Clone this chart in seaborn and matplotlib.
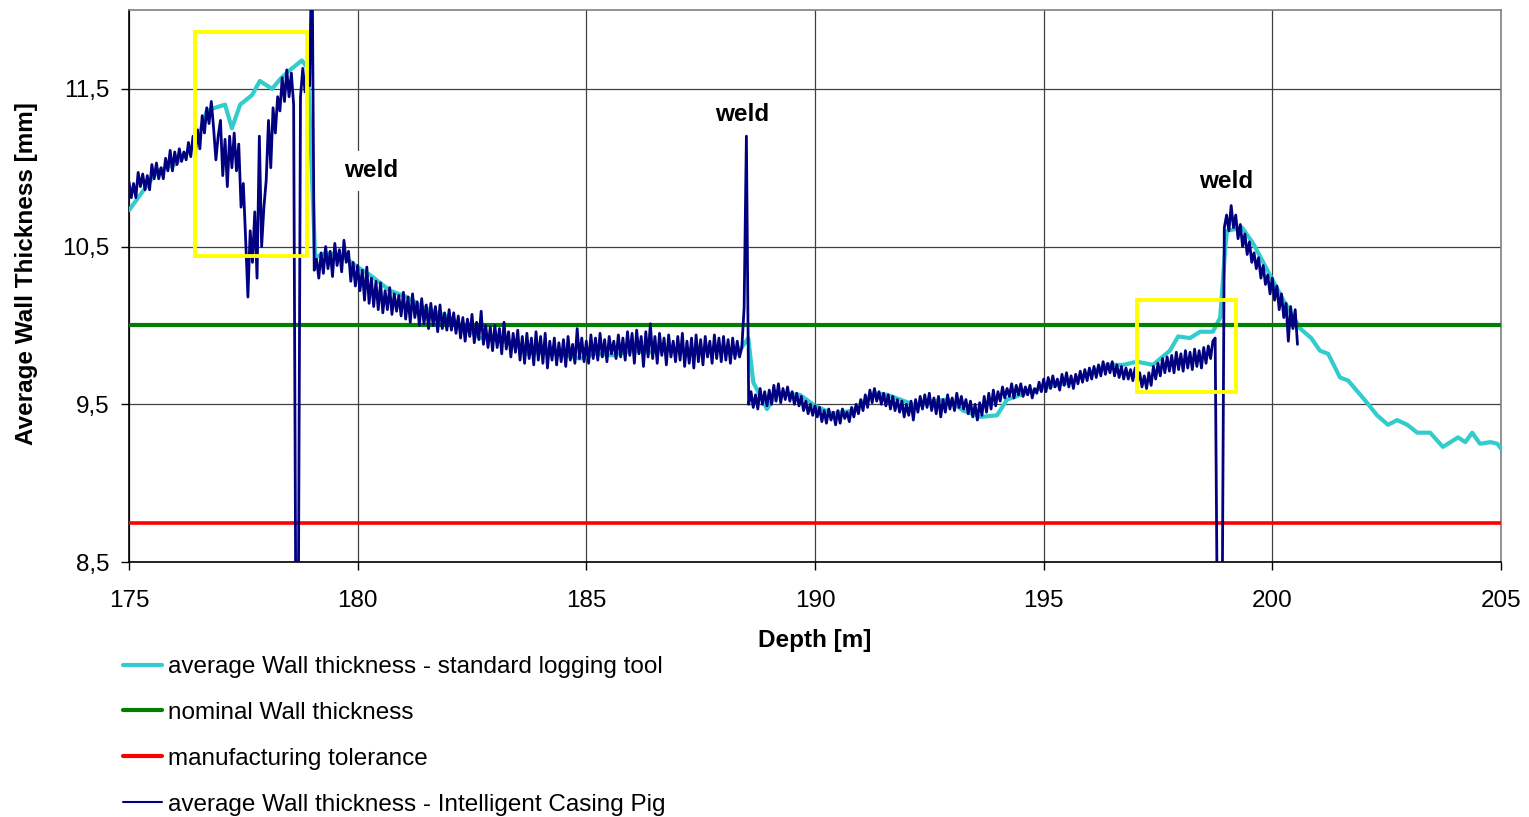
import numpy as np
import pandas as pd
import matplotlib
matplotlib.use('Agg')
import matplotlib.pyplot as plt
import matplotlib.patches as patches
from matplotlib.lines import Line2D
from matplotlib.ticker import FuncFormatter
import seaborn as sns

# standard logging tool (coarse sampling)
std_depth = [175.0, 175.3, 175.63, 176.0, 176.3, 176.49, 176.7, 176.88, 177.1, 177.25,
             177.43, 177.69, 177.86, 178.13, 178.3, 178.48, 178.78, 178.91, 179.07, 179.29,
             179.5, 179.72, 180.0, 180.27, 180.71, 181.08, 181.4, 181.65, 182.02, 182.35,
             182.68, 182.96, 183.4, 183.7, 184.0, 184.36, 184.86, 185.2, 185.6, 186.0,
             186.4, 186.8, 187.2, 187.6, 188.0, 188.3, 188.54, 188.65, 188.95, 189.17,
             189.67, 190.0, 190.39, 190.83, 191.27, 191.58, 191.86, 192.23, 192.58, 192.91,
             193.24, 193.61, 193.98, 194.2, 194.7, 195.07, 195.58, 196.01, 196.39, 196.74,
             197.04, 197.39, 197.76, 197.94, 198.2, 198.42, 198.7, 198.86, 198.97, 199.01,
             199.34, 199.58, 200.02, 200.24, 200.61, 200.85, 201.04, 201.22, 201.48, 201.66,
             202.07, 202.29, 202.53, 202.73, 202.95, 203.17, 203.45, 203.73, 204.06, 204.22,
             204.37, 204.54, 204.77, 204.92, 205.0]
std_thickness = [10.73, 10.85, 10.98, 11.02, 11.10, 11.17, 11.36, 11.38, 11.40, 11.25,
                 11.40, 11.46, 11.55, 11.50, 11.56, 11.61, 11.68, 11.63, 10.43, 10.46,
                 10.45, 10.43, 10.37, 10.32, 10.22, 10.18, 10.12, 10.09, 10.05, 9.98,
                 9.92, 9.91, 9.89, 9.82, 9.83, 9.82, 9.79, 9.82, 9.81, 9.84,
                 9.83, 9.85, 9.83, 9.85, 9.84, 9.82, 9.92, 9.64, 9.47, 9.57,
                 9.56, 9.49, 9.44, 9.46, 9.57, 9.56, 9.53, 9.49, 9.52, 9.53,
                 9.46, 9.42, 9.43, 9.53, 9.58, 9.61, 9.64, 9.70, 9.75, 9.75,
                 9.77, 9.75, 9.84, 9.93, 9.92, 9.96, 9.96, 10.05, 10.49, 10.60,
                 10.62, 10.52, 10.28, 10.16, 9.98, 9.92, 9.84, 9.82, 9.67, 9.65,
                 9.51, 9.43, 9.37, 9.40, 9.37, 9.32, 9.32, 9.23, 9.29, 9.26,
                 9.32, 9.25, 9.26, 9.25, 9.22]

# intelligent casing pig, one reading every 0.05 m starting at 175.0 m
pig_start = 175.0
pig_step = 0.05
pig_thickness = [
    10.91, 10.81, 10.90, 10.81, 10.97, 10.88, 10.96, 10.86, 10.95, 10.86, 11.02, 10.93, 11.03, 10.93, 11.00, 10.93, 11.06, 10.98, 11.11, 10.98,  # 175
    11.10, 11.02, 11.12, 11.04, 11.10, 11.05, 11.16, 11.07, 11.20, 11.08, 11.24, 11.12, 11.33, 11.22, 11.38, 11.28, 11.42, 11.25, 11.05, 11.20,  # 176
    11.30, 10.95, 11.18, 10.88, 11.20, 11.00, 11.22, 10.98, 11.15, 10.75, 10.90, 10.55, 10.18, 10.60, 10.40, 10.72, 10.30, 11.20, 10.50, 10.75,  # 177
    10.92, 11.30, 11.00, 11.38, 11.22, 11.45, 11.36, 11.57, 11.42, 11.62, 11.45, 11.60, 11.40, 8.00, 8.00, 11.45, 11.63, 11.48, 11.60, 11.52,  # 178
    12.50, 10.35, 10.42, 10.30, 10.46, 10.33, 10.50, 10.36, 10.47, 10.31, 10.52, 10.38, 10.48, 10.34, 10.54, 10.40, 10.47, 10.28, 10.40, 10.25,  # 179
    10.38, 10.22, 10.35, 10.16, 10.37, 10.14, 10.30, 10.12, 10.28, 10.10, 10.27, 10.08, 10.22, 10.10, 10.24, 10.07, 10.20, 10.09, 10.19, 10.06,  # 180
    10.21, 10.04, 10.18, 10.02, 10.20, 10.05, 10.15, 10.00, 10.17, 10.01, 10.13, 9.98, 10.14, 10.00, 10.12, 9.96, 10.13, 9.98, 10.08, 9.97,  # 181
    10.10, 9.97, 10.08, 9.95, 10.06, 9.92, 10.05, 9.90, 10.04, 9.93, 10.07, 9.89, 10.02, 9.91, 10.09, 9.88, 10.00, 9.86, 9.99, 9.84,  # 182
    10.00, 9.86, 9.98, 9.82, 10.02, 9.85, 9.96, 9.80, 9.95, 9.83, 9.97, 9.78, 9.93, 9.76, 9.95, 9.79, 9.92, 9.75, 9.96, 9.78,  # 183
    9.93, 9.76, 9.95, 9.73, 9.90, 9.78, 9.92, 9.75, 9.89, 9.77, 9.91, 9.74, 9.93, 9.78, 9.88, 9.76, 9.98, 9.79, 9.92, 9.77,  # 184
    9.90, 9.76, 9.94, 9.79, 9.92, 9.78, 9.95, 9.80, 9.91, 9.77, 9.93, 9.82, 9.90, 9.79, 9.94, 9.80, 9.92, 9.78, 9.96, 9.81,  # 185
    9.95, 9.76, 9.97, 9.82, 9.93, 9.74, 9.96, 9.80, 10.01, 9.79, 9.93, 9.76, 9.95, 9.81, 9.92, 9.75, 9.94, 9.80, 9.90, 9.77,  # 186
    9.93, 9.78, 9.95, 9.74, 9.90, 9.76, 9.92, 9.73, 9.94, 9.77, 9.91, 9.75, 9.93, 9.80, 9.90, 9.76, 9.94, 9.79, 9.92, 9.77,  # 187
    9.93, 9.78, 9.91, 9.76, 9.92, 9.79, 9.90, 9.80, 9.86, 10.11, 11.20, 9.50, 9.58, 9.48, 9.56, 9.47, 9.60, 9.50, 9.58, 9.49,  # 188
    9.59, 9.50, 9.62, 9.52, 9.63, 9.51, 9.60, 9.53, 9.61, 9.52, 9.58, 9.50, 9.57, 9.49, 9.55, 9.46, 9.52, 9.44, 9.50, 9.43,  # 189
    9.49, 9.42, 9.48, 9.39, 9.46, 9.38, 9.47, 9.40, 9.45, 9.37, 9.46, 9.38, 9.47, 9.41, 9.45, 9.39, 9.48, 9.42, 9.50, 9.44,  # 190
    9.53, 9.46, 9.56, 9.48, 9.59, 9.51, 9.60, 9.52, 9.58, 9.50, 9.57, 9.49, 9.56, 9.47, 9.55, 9.46, 9.53, 9.45, 9.52, 9.42,  # 191
    9.50, 9.43, 9.52, 9.40, 9.53, 9.45, 9.55, 9.47, 9.56, 9.48, 9.57, 9.46, 9.54, 9.44, 9.55, 9.42, 9.53, 9.45, 9.56, 9.47,  # 192
    9.54, 9.46, 9.57, 9.48, 9.55, 9.47, 9.53, 9.44, 9.52, 9.42, 9.50, 9.40, 9.51, 9.43, 9.55, 9.45, 9.57, 9.47, 9.59, 9.49,  # 193
    9.58, 9.52, 9.61, 9.54, 9.60, 9.55, 9.63, 9.54, 9.62, 9.56, 9.63, 9.55, 9.61, 9.56, 9.62, 9.54, 9.60, 9.57, 9.64, 9.58,  # 194
    9.66, 9.58, 9.67, 9.60, 9.68, 9.61, 9.66, 9.59, 9.69, 9.62, 9.70, 9.61, 9.68, 9.60, 9.69, 9.63, 9.71, 9.64, 9.72, 9.65,  # 195
    9.73, 9.66, 9.74, 9.67, 9.75, 9.68, 9.77, 9.69, 9.76, 9.70, 9.77, 9.68, 9.75, 9.67, 9.74, 9.66, 9.73, 9.66, 9.72, 9.65,  # 196
    9.73, 9.64, 9.70, 9.61, 9.68, 9.60, 9.70, 9.62, 9.74, 9.66, 9.76, 9.68, 9.79, 9.70, 9.80, 9.71, 9.81, 9.70, 9.83, 9.72,  # 197
    9.82, 9.71, 9.84, 9.73, 9.83, 9.72, 9.85, 9.74, 9.84, 9.73, 9.86, 9.76, 9.87, 9.79, 9.90, 9.92, 8.00, 8.00, 8.00, 10.62,  # 198
    10.70, 10.60, 10.76, 10.62, 10.70, 10.55, 10.64, 10.50, 10.58, 10.45, 10.53, 10.40, 10.46, 10.36, 10.43, 10.30, 10.38, 10.26, 10.32, 10.20,  # 199
    10.30, 10.16, 10.25, 10.10, 10.20, 10.05, 10.14, 9.90, 10.12, 9.98, 10.10, 9.88,  # 200
]

nominal = 10.0
tolerance = 8.75
depth_range = [175, 205]

labels = ['average Wall thickness - standard logging tool',
          'nominal Wall thickness',
          'manufacturing tolerance',
          'average Wall thickness - Intelligent Casing Pig']
colors = ['#33CCCC', '#008000', '#FF0000', '#000080']

weld_x = [180.3, 188.4, 199.0]
weld_y = [10.98, 11.34, 10.91]

# highlighted areas: (left, bottom, width, height) in data units
boxes = [(176.44, 10.44, 2.45, 1.42), (197.04, 9.58, 2.17, 0.58)]

std_df = pd.DataFrame({'depth': std_depth, 'thickness': std_thickness})
pig_df = pd.DataFrame({'depth': np.round(pig_start + pig_step * np.arange(len(pig_thickness)), 2),
                       'thickness': pig_thickness})
nom_df = pd.DataFrame({'depth': depth_range, 'thickness': [nominal] * 2})
tol_df = pd.DataFrame({'depth': depth_range, 'thickness': [tolerance] * 2})

sns.set_theme(style='white')
plt.rcParams['font.family'] = ['Liberation Sans', 'DejaVu Sans']
plt.rcParams['text.color'] = 'black'
plt.rcParams['axes.labelcolor'] = 'black'
plt.rcParams['xtick.color'] = 'black'
plt.rcParams['ytick.color'] = 'black'

fs = 17.5

fig = plt.figure(figsize=(15.29, 8.17), dpi=100)
ax = fig.add_axes([129 / 1529, 1 - 562 / 817, 1372 / 1529, 552 / 817])

sns.lineplot(data=std_df, x='depth', y='thickness', ax=ax, color=colors[0], lw=3.0,
             estimator=None, sort=False, zorder=3)
sns.lineplot(data=nom_df, x='depth', y='thickness', ax=ax, color=colors[1], lw=3.0, zorder=3)
sns.lineplot(data=tol_df, x='depth', y='thickness', ax=ax, color=colors[2], lw=2.6, zorder=3)
sns.lineplot(data=pig_df, x='depth', y='thickness', ax=ax, color=colors[3], lw=2.0,
             estimator=None, sort=False, zorder=4)

ax.set_xlim(175, 205)
ax.set_ylim(8.5, 12.0)
ax.set_xticks(range(175, 206, 5))
ax.set_yticks([8.5, 9.5, 10.5, 11.5])
ax.yaxis.set_major_formatter(FuncFormatter(lambda v, p: f'{v:.1f}'.replace('.', ',')))
ax.tick_params(axis='both', labelsize=fs, length=6, width=1, color='black', direction='out')
ax.tick_params(axis='x', pad=14)
ax.tick_params(axis='y', pad=8)
ax.xaxis.set_ticks_position('bottom')
ax.yaxis.set_ticks_position('left')
ax.grid(True, color='#404040', lw=0.9, zorder=0)
ax.set_axisbelow(True)

for side in ['left', 'bottom']:
    ax.spines[side].set_color('black')
    ax.spines[side].set_linewidth(1.2)
for side in ['top', 'right']:
    ax.spines[side].set_color('#808080')
    ax.spines[side].set_linewidth(1.2)

ax.set_xlabel('Depth [m]', fontsize=fs, fontweight='bold')
ax.set_ylabel('Average Wall Thickness [mm]', fontsize=fs, fontweight='bold')
ax.xaxis.set_label_coords(0.5, -0.122)
ax.yaxis.set_label_coords(-0.066, 0.522)

for wx, wy in zip(weld_x, weld_y):
    ax.text(wx, wy, 'weld', fontsize=fs, fontweight='bold', ha='center', va='center',
            bbox=dict(facecolor='white', edgecolor='none', pad=6), zorder=2)

for left, bottom, w, h in boxes:
    ax.add_patch(patches.Rectangle((left, bottom), w, h, fill=False, edgecolor='#FFFF00',
                                   lw=2.8, zorder=6))

if ax.get_legend() is not None:
    ax.get_legend().remove()

handles = [Line2D([], [], color=colors[0], lw=3.0),
           Line2D([], [], color=colors[1], lw=3.0),
           Line2D([], [], color=colors[2], lw=3.0),
           Line2D([], [], color=colors[3], lw=1.5)]
fig.legend(handles, labels, loc='upper left', bbox_to_anchor=(123 / 1529, 1 - 656 / 817),
           frameon=False, fontsize=fs, handlelength=1.6, handletextpad=0.25,
           labelspacing=0.98, borderpad=0, borderaxespad=0)

fig.savefig('out.png', dpi=100)
